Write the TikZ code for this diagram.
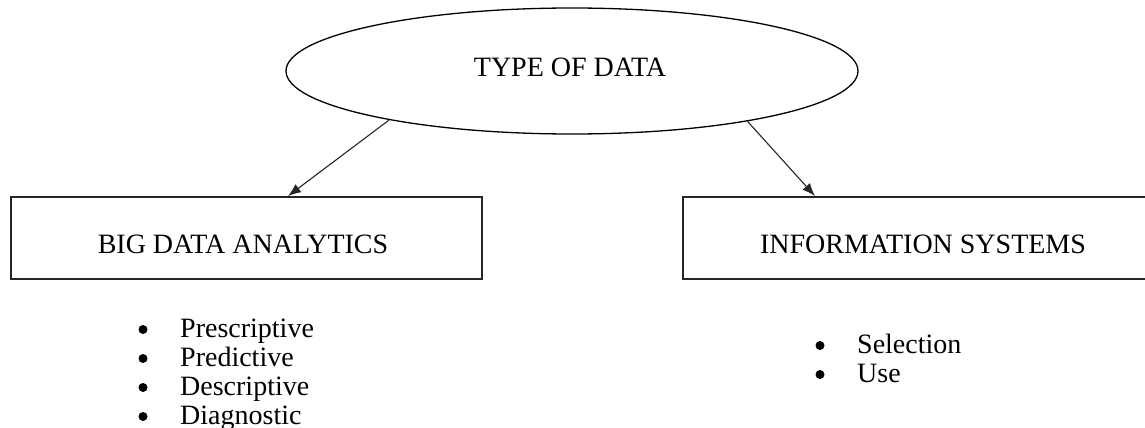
\documentclass[tikz,border=0pt]{standalone}
\usepackage{fontspec}
\setmainfont{Liberation Serif}
\usetikzlibrary{shapes.geometric,arrows.meta}

\tikzset{
  txt/.style={inner sep=0pt, anchor=base, font=\fontsize{28}{29}\selectfont},
  item/.style={inner sep=0pt, anchor=base west, font=\fontsize{28}{29}\selectfont},
  topic/.style={draw=black, line width=1.3pt, ellipse, inner sep=0pt,
                minimum width=572pt, minimum height=126pt},
  panel/.style={draw=black!85, line width=1.9pt, rectangle, inner sep=0pt,
                minimum height=82pt},
  dot/.style={circle, fill=black, inner sep=0pt, minimum size=9pt},
  arr/.style={draw=black!85, line width=1.1pt,
              -{Latex[length=13pt,width=10pt]}}
}

\begin{document}
\begin{tikzpicture}[x=1pt,y=-1pt]
  \useasboundingbox (0,0) rectangle (1145,428);
  \clip (0,0) rectangle (1145,428);

  % top ellipse
  \node[topic] (tod) at (572,71) {};
  \node[txt] (todtxt) at (570,77) {TYPE OF DATA};

  % two category boxes
  \node[panel, minimum width=471pt] (bda) at (246.5,238) {};
  \node[txt] (bdatxt) at (243,253) {BIG DATA ANALYTICS};
  \node[panel, minimum width=478pt] (ins) at (922,238) {};
  \node[txt] (instxt) at (923,253) {INFORMATION SYSTEMS};

  % connectors
  \draw[arr] (tod.195.9) -- (288,0 |- bda.north);
  \draw[arr] (tod.344.4) -- (815,0 |- ins.north);

  % left list
  \node[dot] (b1) at (143,329.5) {};
  \node[item] (l1) at (180,337) {Prescriptive};
  \node[dot] (b2) at (143,358.5) {};
  \node[item] (l2) at (180,366) {Predictive};
  \node[dot] (b3) at (143,387.5) {};
  \node[item] (l3) at (180,395) {Descriptive};
  \node[dot] (b4) at (143,416.5) {};
  \node[item] (l4) at (180,424) {Diagnostic};

  % right list
  \node[dot] (r1b) at (820,345.5) {};
  \node[item] (r1) at (857,353) {Selection};
  \node[dot] (r2b) at (820,374.5) {};
  \node[item] (r2) at (857,382) {Use};
\end{tikzpicture}
\end{document}
